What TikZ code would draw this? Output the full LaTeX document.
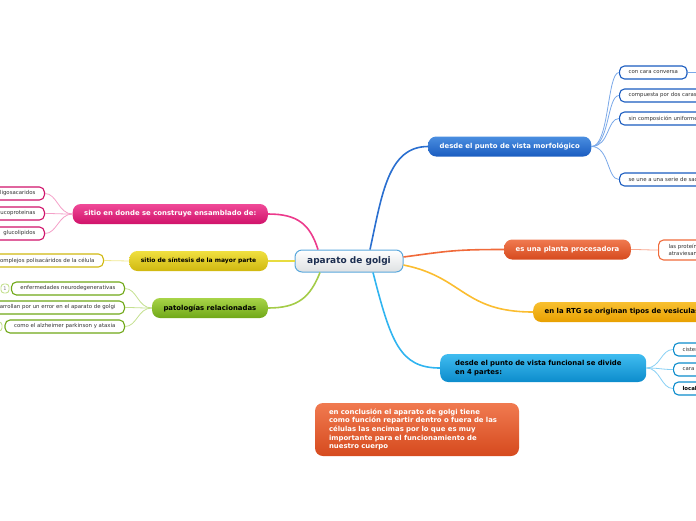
\documentclass[tikz,border=0pt]{standalone}
\usepackage{fontspec}
\setmainfont{DejaVu Sans}
\usetikzlibrary{calc}

\definecolor{golgiedge}{HTML}{5AA8DC}
\definecolor{golginavy}{HTML}{1C2E50}
\definecolor{leaftext}{HTML}{333333}
\definecolor{morftop}{HTML}{4A8EE0}
\definecolor{morfbot}{HTML}{1A5CC0}
\definecolor{morfline}{HTML}{2A6FD0}
\definecolor{morftwig}{HTML}{7AA8E8}
\definecolor{plantatop}{HTML}{F07A50}
\definecolor{plantabot}{HTML}{D64A1E}
\definecolor{plantaline}{HTML}{F06A3A}
\definecolor{plantatwig}{HTML}{F8A890}
\definecolor{rtgtop}{HTML}{F8C030}
\definecolor{rtgbot}{HTML}{E8A000}
\definecolor{rtgline}{HTML}{FBBD30}
\definecolor{functop}{HTML}{40BCF0}
\definecolor{funcbot}{HTML}{0C8CCC}
\definecolor{funcline}{HTML}{30B4F0}
\definecolor{functwig}{HTML}{88D0F4}
\definecolor{pinktop}{HTML}{F04A98}
\definecolor{pinkbot}{HTML}{D0126A}
\definecolor{pinkline}{HTML}{EC3A8C}
\definecolor{pinktwig}{HTML}{F4A0C8}
\definecolor{sintop}{HTML}{F0E040}
\definecolor{sinbot}{HTML}{D0B810}
\definecolor{sinline}{HTML}{E8DC40}
\definecolor{sintwig}{HTML}{F0E890}
\definecolor{pattop}{HTML}{A8D448}
\definecolor{patbot}{HTML}{70A818}
\definecolor{patline}{HTML}{A4CC48}
\definecolor{pattwig}{HTML}{C4E090}

\begin{document}
\begin{tikzpicture}[x=1pt,y=-1pt,
  hub/.style={draw=golgiedge, line width=1pt, rounded corners=7pt, top color=white,
    bottom color=golgiedge!15!gray!25, text=golginavy, minimum width=108pt,
    minimum height=22pt, font=\fontsize{9}{11}\selectfont\bfseries},
  topic/.style={rounded corners=8pt, minimum height=20pt, inner xsep=11.5pt,
    text=white, font=\fontsize{6.9}{8.7}\selectfont\bfseries},
  leaf/.style={draw, fill=white, rounded corners=5pt, line width=1.1pt,
    minimum height=13pt, inner xsep=9pt, inner ysep=1pt, text=leaftext,
    font=\fontsize{5.4}{6.4}\selectfont},
  badge/.style={draw=pattwig, fill=white, rounded corners=3pt, line width=0.9pt,
    minimum width=8pt, minimum height=9pt, inner sep=0pt, text=gray,
    font=\fontsize{5}{6}\selectfont},
  wire/.style={line width=1.6pt},
  twig/.style={line width=0.8pt}]
  \useasboundingbox (0,0) rectangle (696,520);
  \clip (0,0) rectangle (696,520);

  % main topics
  \node[hub] (golgi) at (349,261) {aparato de golgi};
  \node[topic, top color=morftop, bottom color=morfbot, anchor=west] (morf) at (428,146.5)
    {desde el punto de vista morfológico};
  \node[topic, top color=plantatop, bottom color=plantabot, anchor=west] (planta) at (504,249.5)
    {es una planta procesadora};
  \node[topic, top color=rtgtop, bottom color=rtgbot, text=black, anchor=west] (rtg) at (533,312)
    {en la RTG se originan tipos de vesiculas};
  \node[topic, top color=functop, bottom color=funcbot, text=black, anchor=west,
    text width=176pt, inner xsep=15pt, minimum height=28pt, align=left] (func) at (440,368)
    {desde el punto de vista funcional se divide\\en 4 partes:};
  \node[topic, top color=plantatop, bottom color=plantabot, text width=176pt,
    inner xsep=14pt, minimum height=53pt, align=left] (cierre) at (417,429.5)
    {en conclusión el aparato de golgi tiene\\como función repartir dentro o fuera de las\\células las encimas por lo que es muy\\importante para el funcionamiento de\\nuestro cuerpo};
  \node[topic, top color=pinktop, bottom color=pinkbot, anchor=east] (ensamble) at (268,214)
    {sitio en donde se construye ensamblado de:};
  \node[topic, top color=sintop, bottom color=sinbot, text=black, anchor=east,
    font=\fontsize{6}{8}\selectfont\bfseries] (sintesis) at (268,261)
    {sitio de síntesis de la mayor parte};
  \node[topic, top color=pattop, bottom color=patbot, text=black, anchor=east] (pato) at (268,308)
    {patologías relacionadas};

  % leaves
  \node[leaf, draw=morfbot, anchor=west] (conversa) at (619,72.5) {con cara conversa};
  \node[leaf, draw=morfbot, anchor=west] (caras) at (619,95.5) {compuesta por dos caras};
  \node[leaf, draw=morfbot, anchor=west] (uniforme) at (619,118.5) {sin composición uniforme};
  \node[leaf, draw=morfbot, anchor=west] (sacos) at (619,179.5) {se une a una serie de sacos};
  \coordinate (conversa-out) at (720,72.5);
  \node[leaf, draw=plantaline, anchor=west, minimum height=20pt, inner xsep=10pt,
    align=left] (proteinas) at (658,250) {las proteínas\\atraviesan};
  \node[leaf, draw=funcbot, anchor=west] (cisternas) at (673,349.5) {cisternas};
  \node[leaf, draw=funcbot, anchor=west] (cara) at (673,369.5) {cara};
  \node[leaf, draw=funcbot, anchor=west, font=\fontsize{5.4}{6.4}\selectfont\bfseries,
    text=black] (local) at (673,388.5) {localización};

  \node[leaf, draw=pinkbot, anchor=east] (oligo) at (45,193.5) {oligosacaridos};
  \node[leaf, draw=pinkbot, anchor=east] (gluprot) at (45,213.5) {glucoproteinas};
  \node[leaf, draw=pinkbot, anchor=east] (glulip) at (45,233.5) {glucolipidos};
  \node[leaf, draw=sinbot, anchor=east] (polisac) at (104,260.5) {complejos polisacáridos de la célula};
  \node[leaf, draw=patbot, anchor=east] (neuro) at (125,288.5) {enfermedades neurodegenerativas};
  \node[leaf, draw=patbot, anchor=east] (error) at (125,307.5) {desarrollan por un error en el aparato de golgi};
  \node[leaf, draw=patbot, anchor=east] (alzheimer) at (125,326.5) {como el alzheimer parkinson y ataxia};
  \node[badge] (uno) at (5,288.5) {1};
  \node[badge] (dos) at (-2,326.5) {};

  % connectors from the centre
  \draw[wire, pinkline] ($(golgi.north)+(-31,0)$) .. controls +(-8,-25) and +(30,0) .. (ensamble.east);
  \draw[wire, morfline] ($(golgi.north)+(21,0)$) .. controls +(12,-55) and +(-40,0) .. (morf.west);
  \draw[wire, plantaline] ($(golgi.east)+(0,-4)$) .. controls +(45,-6) and +(-50,0) .. (planta.west);
  \draw[wire, rtgline] ($(golgi.east)+(0,4)$) .. controls +(60,12) and +(-70,0) .. (rtg.west);
  \draw[wire, funcline] ($(golgi.south)+(24,0)$) .. controls +(18,70) and +(-40,0) .. (func.west);
  \draw[wire, sinline] (golgi.west) -- (sintesis.east);
  \draw[wire, patline] ($(golgi.south)+(-29,0)$) .. controls +(-10,25) and +(30,0) .. (pato.east);

  % connectors to the leaves
  \draw[twig, morftwig] (morf.east) .. controls +(18,0) and +(-12,0) .. (conversa.west);
  \draw[twig, morftwig] (morf.east) .. controls +(18,0) and +(-12,0) .. (caras.west);
  \draw[twig, morftwig] (morf.east) .. controls +(18,0) and +(-12,0) .. (uniforme.west);
  \draw[twig, morftwig] (morf.east) .. controls +(18,0) and +(-12,0) .. (sacos.west);
  \draw[twig, morftwig] (conversa.east) -- (conversa-out);
  \draw[twig, plantatwig] (planta.east) .. controls +(12,0) and +(-12,0) .. (proteinas.west);
  \draw[twig, functwig] (func.east) .. controls +(14,0) and +(-12,0) .. (cisternas.west);
  \draw[twig, functwig] (func.east) .. controls +(14,0) and +(-12,0) .. (cara.west);
  \draw[twig, functwig] (func.east) .. controls +(14,0) and +(-12,0) .. (local.west);
  \draw[twig, pinktwig] (ensamble.west) .. controls +(-14,0) and +(12,0) .. (oligo.east);
  \draw[twig, pinktwig] (ensamble.west) .. controls +(-14,0) and +(12,0) .. (gluprot.east);
  \draw[twig, pinktwig] (ensamble.west) .. controls +(-14,0) and +(12,0) .. (glulip.east);
  \draw[twig, sintwig] (sintesis.west) -- (polisac.east);
  \draw[twig, pattwig] (pato.west) .. controls +(-14,0) and +(12,0) .. (neuro.east);
  \draw[twig, pattwig] (pato.west) .. controls +(-14,0) and +(12,0) .. (error.east);
  \draw[twig, pattwig] (pato.west) .. controls +(-14,0) and +(12,0) .. (alzheimer.east);
\end{tikzpicture}
\end{document}
